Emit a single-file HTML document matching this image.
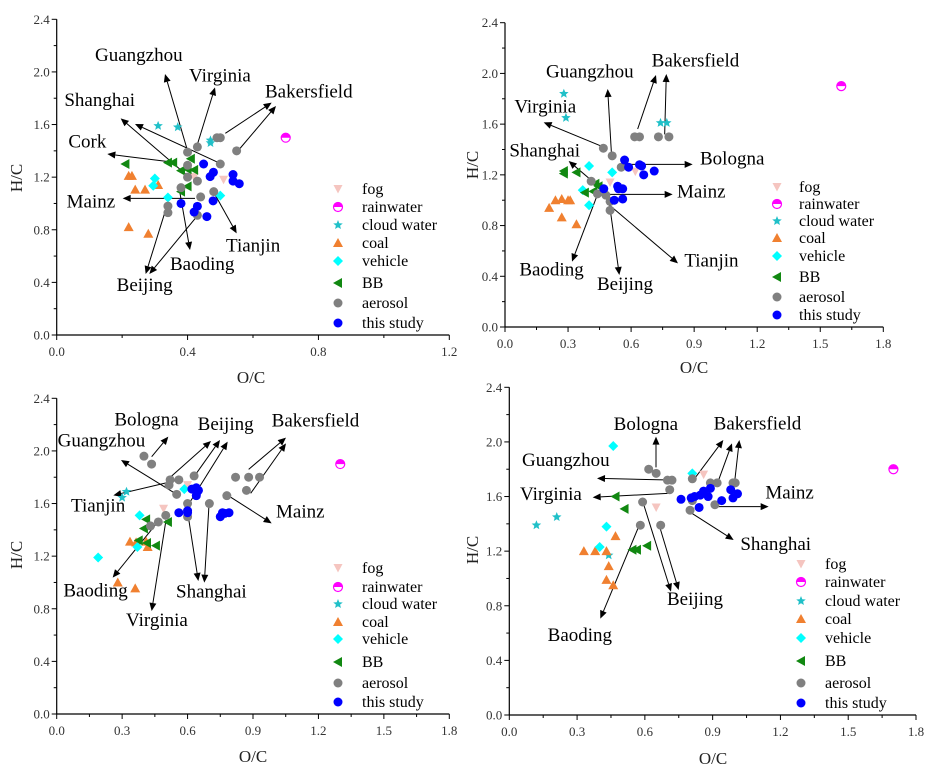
<!DOCTYPE html>
<html><head><meta charset="utf-8"><style>
html,body{margin:0;padding:0;background:#fff;}
svg{display:block;font-family:"Liberation Serif",serif;}
</style></head><body>
<svg id="chart" width="936" height="776" viewBox="0 0 936 776" xmlns="http://www.w3.org/2000/svg"></svg>
<script>
// ---- data (O/C, H/C pairs) ----
const p1Fog=[[0.51,1.18],[0.42,1.20]];
const p1Rain=[[0.70,1.50]];
const p1Cloud=[[0.31,1.59],[0.37,1.58],[0.47,1.48],[0.47,1.46]];
const p1Coal=[[0.22,1.21],[0.23,1.21],[0.24,1.105],[0.27,1.105],[0.31,1.14],[0.22,0.82],[0.28,0.77]];
const p1Vehicle=[[0.30,1.19],[0.295,1.135],[0.34,1.045],[0.50,1.06]];
const p1BB=[[0.21,1.30],[0.34,1.31],[0.356,1.31],[0.41,1.34],[0.38,1.25],[0.40,1.26],[0.42,1.255],[0.40,1.13],[0.38,1.09]];
const p1Aerosol=[[0.43,1.43],[0.40,1.39],[0.49,1.50],[0.50,1.50],[0.55,1.40],[0.50,1.30],[0.40,1.29],[0.43,1.17],[0.40,1.20],[0.38,1.12],[0.44,1.05],[0.48,1.09],[0.34,0.98],[0.34,0.93],[0.43,0.91]];
const p1Study=[[0.449,1.30],[0.479,1.237],[0.469,1.204],[0.539,1.22],[0.539,1.17],[0.558,1.15],[0.38,1.00],[0.43,0.978],[0.42,0.935],[0.459,0.90],[0.478,1.02]];

const p2Fog=[[0.50,1.14],[0.62,1.225]];
const p2Rain=[[1.60,1.90]];
const p2Cloud=[[0.28,1.84],[0.29,1.65],[0.74,1.61],[0.77,1.61]];
const p2Coal=[[0.21,0.94],[0.24,1.00],[0.27,1.01],[0.30,1.00],[0.31,1.00],[0.27,0.865],[0.34,0.81]];
const p2Vehicle=[[0.40,1.27],[0.51,1.22],[0.37,1.08],[0.40,0.96]];
const p2BB=[[0.28,1.23],[0.28,1.21],[0.34,1.22],[0.43,1.13],[0.445,1.11],[0.38,1.06],[0.42,1.07]];
const p2Aerosol=[[0.468,1.41],[0.51,1.35],[0.553,1.26],[0.617,1.50],[0.64,1.50],[0.73,1.50],[0.78,1.50],[0.41,1.15],[0.44,1.05],[0.48,1.04],[0.50,0.99],[0.50,0.92]];
const p2Study=[[0.569,1.317],[0.588,1.26],[0.64,1.28],[0.65,1.27],[0.66,1.20],[0.71,1.23],[0.47,1.09],[0.536,1.11],[0.54,1.09],[0.56,1.09],[0.52,1.00],[0.56,1.01]];

const p3Fog=[[0.49,1.56],[0.60,1.74]];
const p3Rain=[[1.30,1.90]];
const p3Cloud=[[0.32,1.69],[0.30,1.645]];
const p3Coal=[[0.336,1.31],[0.364,1.305],[0.41,1.31],[0.417,1.27],[0.28,1.00],[0.36,0.955]];
const p3Vehicle=[[0.38,1.51],[0.19,1.19],[0.37,1.27],[0.585,1.71]];
const p3BB=[[0.41,1.48],[0.40,1.41],[0.376,1.32],[0.414,1.30],[0.455,1.28],[0.51,1.46]];
const p3Aerosol=[[0.40,1.96],[0.435,1.90],[0.515,1.74],[0.52,1.78],[0.56,1.78],[0.55,1.67],[0.63,1.81],[0.82,1.80],[0.88,1.80],[0.93,1.80],[0.87,1.70],[0.78,1.66],[0.70,1.60],[0.60,1.50],[0.60,1.60],[0.50,1.51],[0.466,1.46],[0.43,1.43]];
const p3Study=[[0.56,1.53],[0.60,1.53],[0.60,1.545],[0.64,1.72],[0.645,1.69],[0.65,1.70],[0.64,1.66],[0.62,1.71],[0.75,1.50],[0.76,1.53],[0.77,1.525],[0.79,1.53]];

const p4Fog=[[0.86,1.76],[0.65,1.52]];
const p4Rain=[[1.70,1.80]];
const p4Cloud=[[0.12,1.39],[0.21,1.45],[0.44,1.17]];
const p4Coal=[[0.33,1.20],[0.38,1.20],[0.43,1.20],[0.47,1.31],[0.44,1.09],[0.43,0.99],[0.46,0.95]];
const p4Vehicle=[[0.46,1.97],[0.81,1.77],[0.43,1.38],[0.40,1.23]];
const p4BB=[[0.47,1.60],[0.51,1.51],[0.545,1.21],[0.565,1.21],[0.61,1.24]];
const p4Aerosol=[[0.617,1.80],[0.65,1.77],[0.70,1.72],[0.72,1.72],[0.71,1.65],[0.59,1.56],[0.58,1.39],[0.67,1.39],[0.81,1.73],[0.89,1.70],[0.92,1.70],[0.99,1.70],[1.00,1.70],[0.91,1.54],[0.80,1.50],[0.81,1.57]];
const p4Study=[[0.76,1.58],[0.805,1.59],[0.82,1.60],[0.845,1.61],[0.86,1.64],[0.89,1.66],[0.88,1.60],[0.84,1.52],[0.94,1.57],[0.98,1.65],[1.01,1.62],[0.99,1.59]];

const xTicks1=["0.0","0.4","0.8","1.2"];
const xTicks2=["0.0","0.3","0.6","0.9","1.2","1.5","1.8"];
const yTicks=["0.0","0.4","0.8","1.2","1.6","2.0","2.4"];
const legendLabels=["fog","rainwater","cloud water","coal","vehicle","BB","aerosol","this study"];

const NS="http://www.w3.org/2000/svg";
const svg=document.getElementById('chart');
function mk(tag,attrs,parent){const e=document.createElementNS(NS,tag);for(const k in attrs)e.setAttribute(k,attrs[k]);(parent||svg).appendChild(e);return e;}

function marker(g,type,cx,cy){
  let e;
  if(type==='fog'){e=mk('path',{d:`M${cx-4.5},${cy-4} L${cx+4.5},${cy-4} L${cx},${cy+4.5} Z`,fill:'#f5c5c0'},g);}
  else if(type==='rain'){e=mk('g',{},g);
    mk('circle',{cx:cx,cy:cy,r:4.5,fill:'#fff',stroke:'#ff00ff','stroke-width':1.2},e);
    mk('path',{d:`M${cx-4.5},${cy} A4.5,4.5 0 0 1 ${cx+4.5},${cy} Z`,fill:'#ff00ff'},e);}
  else if(type==='cloud'){let p='';for(let i=0;i<10;i++){const r=i%2?2.2:5;const a=-Math.PI/2+i*Math.PI/5;p+=(i?'L':'M')+(cx+r*Math.cos(a)).toFixed(2)+','+(cy+r*Math.sin(a)).toFixed(2);}e=mk('path',{d:p+'Z',fill:'#20c0c8'},g);}
  else if(type==='coal'){e=mk('path',{d:`M${cx-5},${cy+4} L${cx+5},${cy+4} L${cx},${cy-5} Z`,fill:'#f08030'},g);}
  else if(type==='vehicle'){e=mk('path',{d:`M${cx},${cy-5} L${cx+5},${cy} L${cx},${cy+5} L${cx-5},${cy} Z`,fill:'#00ffff'},g);}
  else if(type==='bb'){e=mk('path',{d:`M${cx-5},${cy} L${cx+4},${cy-5} L${cx+4},${cy+5} Z`,fill:'#118811'},g);}
  else if(type==='aerosol'){e=mk('circle',{cx:cx,cy:cy,r:4.5,fill:'#808080'},g);}
  else {e=mk('circle',{cx:cx,cy:cy,r:4.5,fill:'#0000ff'},g);}
  return e;
}
const types=['fog','rain','cloud','coal','vehicle','bb','aerosol','study'];

function panel(cfg){
  const g=mk('g',{});
  
  
  const X=v=>cfg.x0+v/cfg.xmax*(cfg.x1-cfg.x0);
  const Y=v=>cfg.y0-v/2.4*(cfg.y0-cfg.yt);
  // axes
  const ax=mk('line',{x1:cfg.x0,y1:cfg.y0,x2:cfg.x1,y2:cfg.y0,stroke:'#000','stroke-width':1.2},g);
  
  
  const ay=mk('line',{x1:cfg.x0,y1:cfg.y0,x2:cfg.x0,y2:cfg.yt,stroke:'#000','stroke-width':1.2},g);
  
  
  const n=cfg.xt.length-1;
  for(let i=0;i<=n*2;i++){const v=cfg.xmax*i/(n*2);const x=X(v);
    mk('line',{x1:x,y1:cfg.y0,x2:x,y2:cfg.y0+(i%2?3:5),stroke:'#000','stroke-width':1},g);}
  cfg.xt.forEach((t,i)=>{const v=parseFloat(t);
    const tx=mk('text',{x:X(v),y:cfg.y0+21,'text-anchor':'middle','font-size':13,fill:'#333'},g);tx.textContent=t;
    
    });
  for(let i=0;i<=12;i++){const y=Y(2.4*i/12);
    mk('line',{x1:cfg.x0,y1:y,x2:cfg.x0-(i%2?3:5),y2:y,stroke:'#000','stroke-width':1},g);}
  yTicks.forEach(t=>{const v=parseFloat(t);
    const ty=mk('text',{x:cfg.x0-7,y:Y(v)+4.5,'text-anchor':'end','font-size':13,fill:'#333'},g);ty.textContent=t;
    
    });
  const xt=mk('text',{x:cfg.xtit[0],y:cfg.xtit[1],'text-anchor':'middle','font-size':17,fill:'#222'},g);xt.textContent='O/C';
  
  
  const yt=mk('text',{x:0,y:0,transform:`translate(${cfg.ytit[0]},${cfg.ytit[1]}) rotate(-90)`,'text-anchor':'middle','font-size':17,fill:'#222'},g);yt.textContent='H/C';
  
  
  // arrows & labels (annotation coords given in 3x zoom space)
  const ox=cfg.off[0],oy=cfg.off[1];
  cfg.arrows.forEach(a=>{const x1=ox+a[0]/3,y1=oy+a[1]/3,x2=ox+a[2]/3,y2=oy+a[3]/3;
    const ang=Math.atan2(y2-y1,x2-x1),L=8,W=3.5;
    const bx=x2-L*Math.cos(ang),by=y2-L*Math.sin(ang);
    const ln=mk('line',{x1:x1,y1:y1,x2:bx,y2:by,stroke:'#000','stroke-width':1},g);
    
    
    mk('path',{d:`M${x2},${y2} L${bx-W*Math.sin(ang)},${by+W*Math.cos(ang)} L${bx+W*Math.sin(ang)},${by-W*Math.cos(ang)} Z`,fill:'#000'},g);});
  cfg.labels.forEach(l=>{const t=mk('text',{x:ox+l[1]/3,y:oy+l[2]/3,'font-size':19,fill:'#000'},g);t.textContent=l[0];
    
    });
  // series
  cfg.series.forEach((s,k)=>{s.forEach(p=>{const m=marker(g,types[k],X(p[0]),Y(p[1]));
    
    });});
  // legend
  const lg=mk('g',{},g);
  
  
  legendLabels.forEach((t,k)=>{const y=cfg.leg[2][k];
    marker(lg,types[k],cfg.leg[0],y);
    const tx=mk('text',{x:cfg.leg[1],y:y+5,'font-size':16,fill:'#000'},lg);tx.textContent=t;
    
    });
}

panel({name:'panel-a',x0:56.7,x1:449.3,xmax:1.2,y0:335,yt:19.3,xt:xTicks1,xtit:[251,383],ytit:[22,178],off:[0,0],
 series:[p1Fog,p1Rain,p1Cloud,p1Coal,p1Vehicle,p1BB,p1Aerosol,p1Study],
 leg:[338,362,[189,207,225,243,261,283,303,323]],
 arrows:[[562,450,495,222],[590,440,645,262],[676,400,815,308],[716,450,828,318],[560,525,362,355],[660,490,405,372],[530,488,322,462],[585,595,368,595],[640,575,710,700],[540,580,570,750],[500,620,437,822],[590,650,448,822]],
 labels:[['Guangzhou',285,183],['Virginia',567,245],['Bakersfield',795,293],['Shanghai',193,318],['Cork',205,443],['Mainz',200,622],['Tianjin',678,755],['Baoding',510,810],['Beijing',350,873]]});

panel({name:'panel-b',x0:505,x1:883.3,xmax:1.8,y0:327,yt:22.7,xt:xTicks2,xtit:[694,373],ytit:[478,165],off:[466,0],
 series:[p2Fog,p2Rain,p2Cloud,p2Coal,p2Vehicle,p2BB,p2Aerosol,p2Study],
 leg:[777,799,[187,204,221,238,256,277,297,315]],
 arrows:[[436,455,425,267],[515,387,570,225],[596,403,601,222],[410,440,233,367],[375,540,308,483],[470,493,680,493],[420,583,620,583],[392,590,318,785],[430,610,460,825],[430,615,636,790]],
 labels:[['Guangzhou',240,232],['Bakersfield',557,200],['Virginia',145,337],['Shanghai',130,470],['Bologna',702,493],['Mainz',633,593],['Baoding',160,827],['Beijing',393,870],['Tianjin',655,800]]});

panel({name:'panel-c',x0:56.7,x1:449.3,xmax:1.8,y0:714,yt:398.3,xt:xTicks2,xtit:[253,762],ytit:[22,555],off:[0,380],
 series:[p3Fog,p3Rain,p3Cloud,p3Coal,p3Vehicle,p3BB,p3Aerosol,p3Study],
 leg:[338,362,[568,587,604,622,639,662,683,702]],
 arrows:[[455,230,505,170],[507,295,633,183],[582,290,660,180],[567,371,683,185],[746,268,858,173],[752,340,858,190],[530,343,363,240],[535,300,340,346],[685,347,815,430],[470,430,338,593],[498,420,455,693],[565,410,595,603],[627,375,613,608]],
 labels:[['Bologna',343,137],['Beijing',593,150],['Bakersfield',815,140],['Guangzhou',173,200],['Tianjin',213,395],['Mainz',828,412],['Baoding',190,650],['Virginia',378,738],['Shanghai',528,652]]});

panel({name:'panel-d',x0:509.3,x1:916,xmax:1.8,y0:715,yt:387.3,xt:xTicks2,xtit:[713,764],ytit:[478,550],off:[466,380],
 series:[p4Fog,p4Rain,p4Cloud,p4Coal,p4Vehicle,p4BB,p4Aerosol,p4Study],
 leg:[801,825,[564,582,601,619,638,661,683,703]],
 arrows:[[570,262,570,170],[690,290,772,180],[755,308,798,190],[806,305,820,180],[610,300,393,295],[605,340,380,352],[750,380,908,380],[670,395,803,480],[532,370,615,635],[580,437,638,630],[518,440,403,716]],
 labels:[['Bologna',443,150],['Bakersfield',743,148],['Guangzhou',168,258],['Virginia',162,360],['Mainz',898,355],['Shanghai',823,510],['Beijing',603,675],['Baoding',245,783]]});
</script>
</body></html>
